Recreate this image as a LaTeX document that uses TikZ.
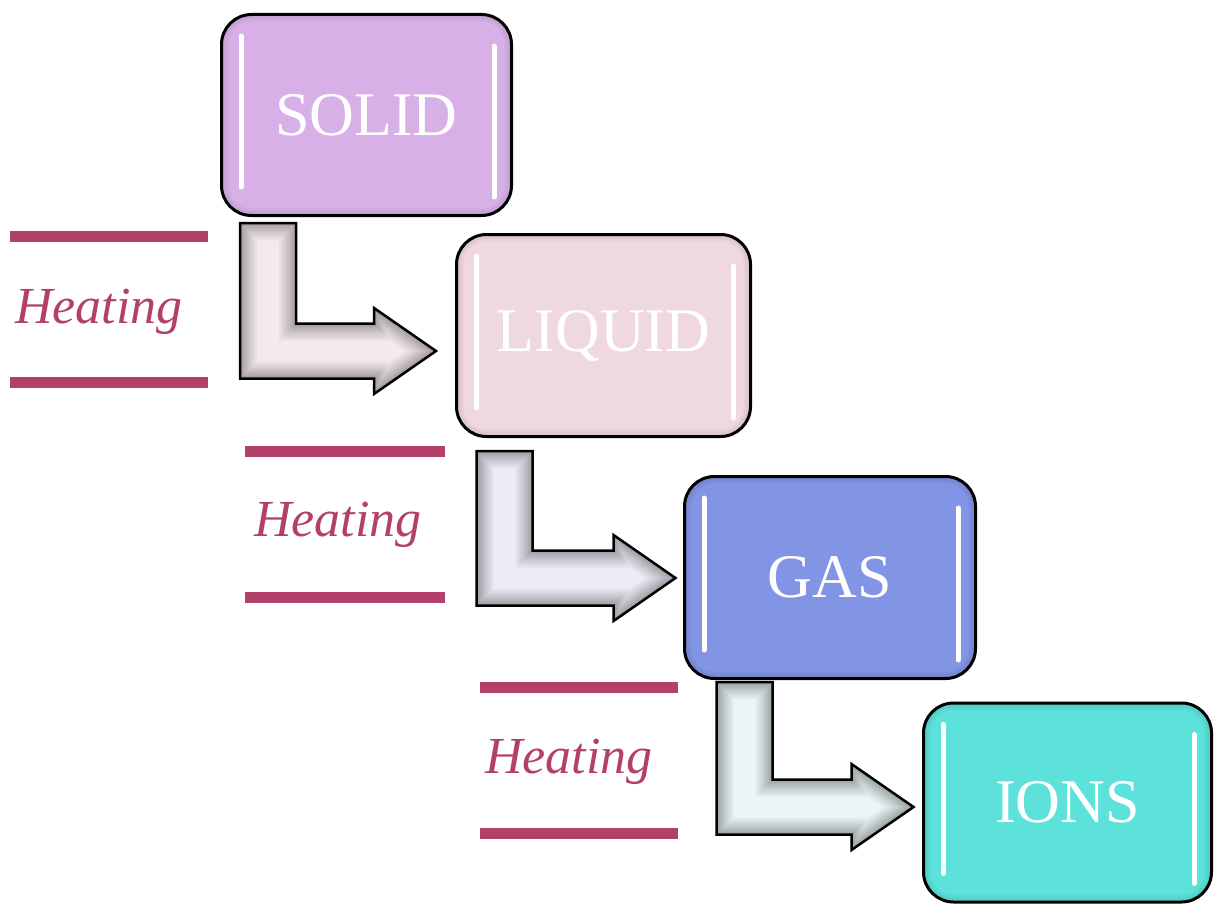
\documentclass[tikz,border=0pt]{standalone}
\usepackage{fontspec}
\setmainfont{Liberation Serif}
\usetikzlibrary{calc}
\definecolor{solidc}{HTML}{D8B0E8}
\definecolor{liquidc}{HTML}{F0D8E2}
\definecolor{gasc}{HTML}{8294E4}
\definecolor{ionsc}{HTML}{5CE2DA}
\definecolor{arrA}{HTML}{F4EAEE}
\definecolor{arrB}{HTML}{ECECF6}
\definecolor{arrC}{HTML}{EAF6F6}
\definecolor{heatc}{HTML}{B2406A}
\pgfdeclarelayer{bg}
\pgfsetlayers{bg,main}
\tikzset{
  statebox/.style={draw=black, line width=3pt, rounded corners=30pt,
    minimum width=290pt, minimum height=201pt, inner sep=0pt,
    text=white, font=\fontsize{62}{70}\selectfont,
    path picture={\foreach \w in {14,9,4}{\draw[black, opacity=0.035, line width=\w pt]
      (path picture bounding box.south west) rectangle (path picture bounding box.north east);}}},
  gloss/.style={white, line width=5pt, line cap=round},
  heatline/.style={draw=heatc, line width=11pt},
  heattext/.style={text=heatc, font=\fontsize{52}{58}\selectfont\itshape,
    anchor=base west, inner sep=0pt},
}
\def\arrpts{(\x1,\y1) -- (\x1+56pt,\y1) -- (\x1+56pt,\y2+27.5pt) -- (\x2-62pt,\y2+27.5pt) -- (\x2-62pt,\y2+43pt) -- (\x2,\y2) -- (\x2-62pt,\y2-43pt) -- (\x2-62pt,\y2-27.5pt) -- (\x1,\y2-27.5pt) -- cycle}
% #1 from node, #2 to node, #3 stem offset from west, #4 gap below from node,
% #5 tip offset below to-node centre, #6 gap before to-node, #7 fill
\newcommand\bentarrow[7]{%
  \path let \p1=(#1.south west), \p2=(#2.west) in
    coordinate (A) at (\x1+#3pt,\y1-#4pt)
    coordinate (T) at (\x2-#6pt,\y2-#5pt);
  \begin{pgfonlayer}{bg}
  \fill[#7] let \p1=(A), \p2=(T) in \arrpts;
  \begin{scope}
    \clip let \p1=(A), \p2=(T) in \arrpts;
    \foreach \w in {34,30,26,22,18,15,12,9,6,4}{
      \draw[black, opacity=0.035, line width=\w pt, line join=miter] let \p1=(A), \p2=(T) in \arrpts;
    }
  \end{scope}
  \draw[black, line width=2.5pt, line join=miter] let \p1=(A), \p2=(T) in \arrpts;
  \end{pgfonlayer}
}
\begin{document}
\begin{tikzpicture}[x=1pt,y=-1pt]
\useasboundingbox (0,0) rectangle (1217,904);

% state boxes
\node[statebox, fill=solidc]  (solid)  at (366.5,115)   {SOLID};
\node[statebox, fill=liquidc, minimum width=294pt, minimum height=202pt] (liquid) at (603.5,335.5) {LIQUID};
\node[statebox, fill=gasc, minimum width=291pt, minimum height=202pt]    (gas)    at (830,577.5)   {GAS};
\node[statebox, fill=ionsc, minimum width=288pt, minimum height=199pt]   (ions)   at (1067.5,802.5) {IONS};

% gloss bars
\foreach \n in {solid,liquid,gas,ions}{
  \draw[gloss] ($(\n.north west)+(21,23)$) -- ($(\n.south west)+(21,-30)$);
  \draw[gloss] ($(\n.north east)+(-19,33)$) -- ($(\n.south east)+(-19,-20)$);
}

% bent arrows
\bentarrow{solid}{liquid}{20}{6}{15.5}{19}{arrA}
\bentarrow{liquid}{gas}{21.5}{13}{0.5}{7.5}{arrB}
\bentarrow{gas}{ions}{33.5}{2}{4.5}{8.5}{arrC}

% heating labels
\draw[heatline] (10,236) -- (208,236);
\draw[heatline] (10,382) -- (208,382);
\node[heattext] (h1) at (15,323) {Heating};

\draw[heatline] (245,451) -- (445,451);
\draw[heatline] (245,597) -- (445,597);
\node[heattext] (h2) at (254,536) {Heating};

\draw[heatline] (480,687) -- (678,687);
\draw[heatline] (480,833) -- (678,833);
\node[heattext] (h3) at (485,773) {Heating};
\end{tikzpicture}
\end{document}
